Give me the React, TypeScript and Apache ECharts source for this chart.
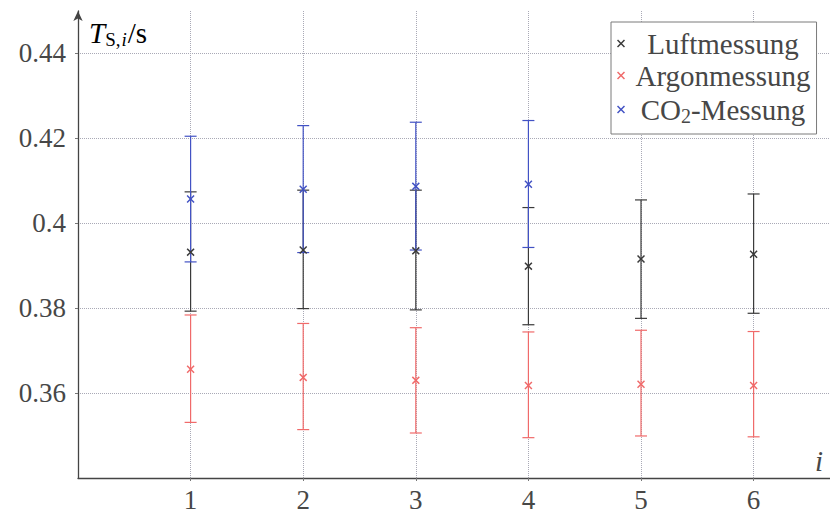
import React, { useEffect, useRef } from 'react';
import * as echarts from 'echarts';

const categories = [1, 2, 3, 4, 5, 6];
const yTickValues = [0.36, 0.38, 0.4, 0.42, 0.44];
const yTickLabels = ['0.36', '0.38', '0.4', '0.42', '0.44'];

const luftMean = [0.3932, 0.3937, 0.3935, 0.3899, 0.3916, 0.3927];
const luftLow = [0.3793, 0.3799, 0.3796, 0.3761, 0.3776, 0.3788];
const luftHigh = [0.4074, 0.4078, 0.4078, 0.4037, 0.4055, 0.4069];

const argonMean = [0.3656, 0.3637, 0.363, 0.3618, 0.3621, 0.3618];
const argonLow = [0.3531, 0.3514, 0.3506, 0.3495, 0.3499, 0.3497];
const argonHigh = [0.3784, 0.3764, 0.3754, 0.3744, 0.3748, 0.3745];

const co2Categories = [1, 2, 3, 4];
const co2Mean = [0.4057, 0.408, 0.4087, 0.4092];
const co2Low = [0.3909, 0.3931, 0.3937, 0.3943];
const co2High = [0.4205, 0.423, 0.4238, 0.4242];

const SERIF = 'Liberation Serif, serif';
const TEXT = '#474747';
const X_PATH =
  'path://M0,1.3L1.3,0L5,3.7L8.7,0L10,1.3L6.3,5L10,8.7L8.7,10L5,6.3L1.3,10L0,8.7L3.7,5Z';

const C_LUFT = '#3a3a3a';
const C_ARGON = '#f06a6a';
const C_CO2 = '#4252c4';

function errSeries(name: string, xs: number[], low: number[], high: number[], color: string) {
  return {
    type: 'custom',
    name,
    z: 2,
    silent: true,
    data: xs.map((x, i) => [x, low[i], high[i]]),
    encode: { x: 0, y: [1, 2] },
    renderItem: (params: any, api: any) => {
      const x = api.value(0);
      const lo = api.coord([x, api.value(1)]);
      const hi = api.coord([x, api.value(2)]);
      const hw = 6;
      const style = { stroke: color, lineWidth: 1.2, fill: 'none' };
      return {
        type: 'group',
        children: [
          { type: 'line', shape: { x1: lo[0], y1: lo[1], x2: hi[0], y2: hi[1] }, style },
          { type: 'line', shape: { x1: lo[0] - hw, y1: lo[1], x2: lo[0] + hw, y2: lo[1] }, style },
          { type: 'line', shape: { x1: hi[0] - hw, y1: hi[1], x2: hi[0] + hw, y2: hi[1] }, style },
        ],
      };
    },
  };
}

function pointSeries(name: string, xs: number[], mean: number[], color: string) {
  return {
    type: 'scatter',
    name,
    z: 5,
    symbol: X_PATH,
    symbolSize: 8,
    itemStyle: { color, opacity: 1 },
    data: xs.map((x, i) => [x, mean[i]]),
  };
}

export default function App() {
  const ref = useRef<HTMLDivElement>(null);
  useEffect(() => {
    if (!ref.current) return;
    const chart = echarts.init(ref.current, undefined, { renderer: 'svg' });
    const gridLine = { type: 'dotted', color: '#a9a9b6', width: 1 };
    chart.setOption({
      animation: false,
      backgroundColor: '#ffffff',
      textStyle: { fontFamily: SERIF },
      grid: {
        left: 78,
        width: 772,
        top: 11,
        bottom: 36,
        containLabel: false,
        outerBoundsMode: 'none',
      },
      xAxis: {
        type: 'value',
        min: 0,
        max: 6.856,
        interval: 1,
        axisLine: {
          show: true,
          lineStyle: { color: '#444', width: 1.3 },
          symbol: ['none', 'arrow'],
          symbolSize: [7, 10],
        },
        axisTick: { show: true, length: 3, lineStyle: { color: '#777', width: 1 } },
        axisLabel: {
          fontFamily: SERIF,
          fontSize: 27,
          lineHeight: 24,
          color: TEXT,
          margin: 10,
          showMinLabel: false,
          showMaxLabel: false,
          formatter: (v: number) => {
            const c = categories.find((k) => Math.abs(k - v) < 1e-6);
            return c === undefined ? '' : String(c);
          },
        },
        splitLine: { show: true, showMinLine: false, showMaxLine: false, lineStyle: gridLine },
      },
      yAxis: {
        type: 'value',
        min: 0.34,
        max: 0.45,
        interval: 0.02,
        axisLine: {
          show: true,
          lineStyle: { color: '#444', width: 1.3 },
          symbol: ['none', 'arrow'],
          symbolSize: [7, 10],
        },
        axisTick: { show: true, length: 3, lineStyle: { color: '#777', width: 1 } },
        axisLabel: {
          fontFamily: SERIF,
          fontSize: 27,
          color: TEXT,
          margin: 12,
          showMinLabel: false,
          showMaxLabel: false,
          formatter: (v: number) => {
            const idx = yTickValues.findIndex((t) => Math.abs(t - v) < 1e-6);
            return idx < 0 ? '' : yTickLabels[idx];
          },
        },
        splitLine: { show: true, showMinLine: false, showMaxLine: false, lineStyle: gridLine },
      },
      legend: {
        orient: 'vertical',
        left: 611,
        top: 22,
        padding: [7, 6, 8, 6],
        itemGap: 3,
        itemWidth: 8,
        itemHeight: 8,
        borderColor: '#7a7a7a',
        borderWidth: 1,
        borderRadius: 0,
        backgroundColor: '#ffffff',
        selectedMode: false,
        data: ['Luftmessung', 'Argonmessung', 'CO2-Messung'],
        formatter: (name: string) =>
          name === 'CO2-Messung' ? '{c|CO}{s|2}{c|-Messung}' : `{c|${name}}`,
        textStyle: {
          width: 186,
          fontFamily: SERIF,
          fontSize: 29,
          color: TEXT,
          rich: {
            c: { fontFamily: SERIF, fontSize: 29, color: TEXT, lineHeight: 30, align: 'center' },
            s: {
              fontFamily: SERIF,
              fontSize: 20,
              color: TEXT,
              lineHeight: 17,
              padding: [13, 0, 0, 0],
              align: 'center',
            },
          },
        },
      },
      graphic: [
        {
          type: 'text',
          left: 89,
          top: 17,
          style: {
            text: '{t|T}{s|S,}{si|i}{n|/s}',
            rich: {
              t: { fontFamily: SERIF, fontStyle: 'italic', fontSize: 29, color: TEXT, lineHeight: 30 },
              s: { fontFamily: SERIF, fontSize: 19, color: TEXT, lineHeight: 17, padding: [13, 0, 0, 0] },
              si: {
                fontFamily: SERIF,
                fontStyle: 'italic',
                fontSize: 19,
                color: TEXT,
                lineHeight: 17,
                padding: [13, 1, 0, 1],
              },
              n: { fontFamily: SERIF, fontSize: 29, color: TEXT, lineHeight: 30 },
            },
          },
        },
        {
          type: 'text',
          left: 815,
          top: 446,
          style: { text: 'i', font: `italic 29px ${SERIF}`, fill: TEXT },
        },
      ],
      series: [
        errSeries('Luft-Fehler', categories, luftLow, luftHigh, C_LUFT),
        errSeries('Argon-Fehler', categories, argonLow, argonHigh, C_ARGON),
        errSeries('CO2-Fehler', co2Categories, co2Low, co2High, C_CO2),
        pointSeries('Luftmessung', categories, luftMean, C_LUFT),
        pointSeries('Argonmessung', categories, argonMean, C_ARGON),
        pointSeries('CO2-Messung', co2Categories, co2Mean, C_CO2),
      ],
    });
    return () => chart.dispose();
  }, []);
  return (
    <div
      ref={ref}
      style={{ position: 'absolute', left: 0, top: 0, width: 830, height: 514, background: '#fff' }}
    />
  );
}
